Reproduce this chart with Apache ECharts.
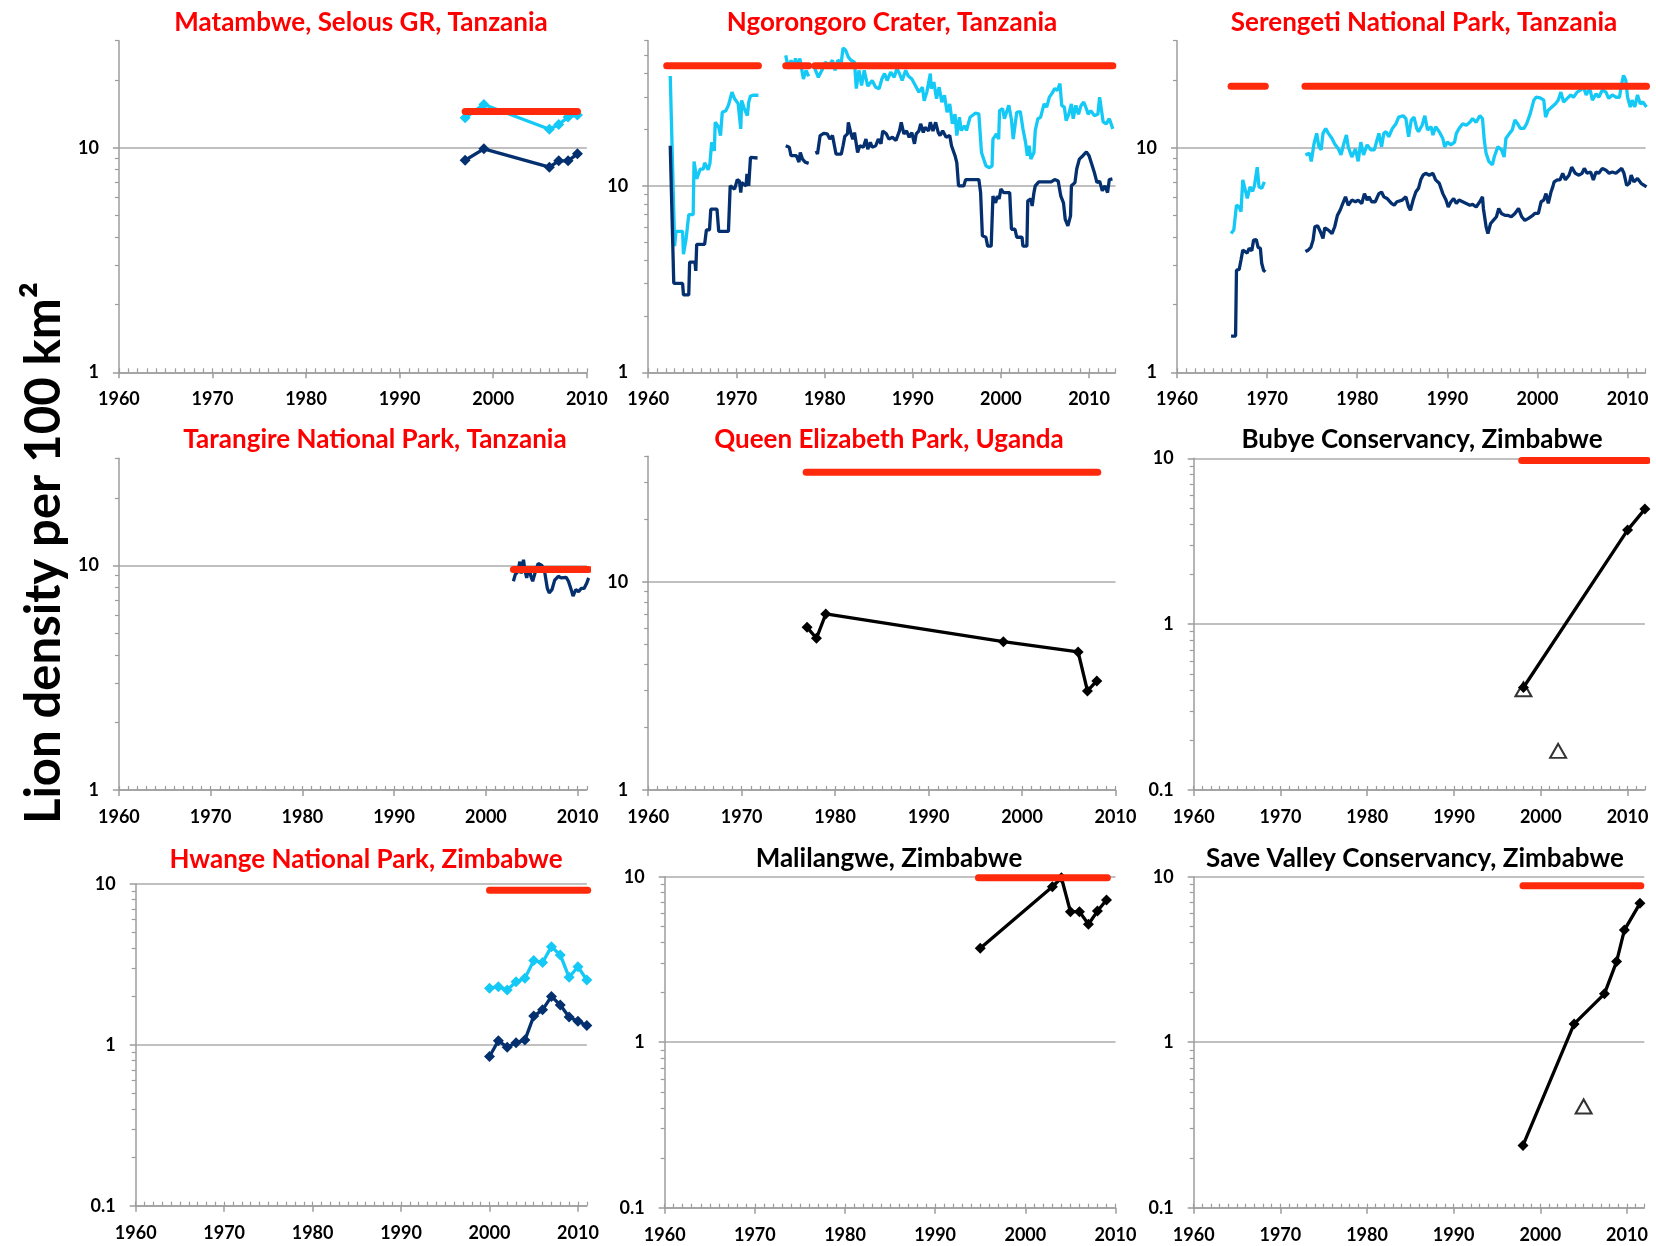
<!DOCTYPE html>
<html>
<head>
<meta charset="utf-8">
<script src="https://cdn.jsdelivr.net/npm/echarts@6/dist/echarts.min.js"></script>
<style>
  html, body { margin: 0; padding: 0; background: #fff; }
  #chart { width: 1656px; height: 1246px; }
</style>
</head>
<body>
<div id="chart"></div>
<script>
// ---- data (lion density per 100 km2) ----

// Matambwe, Selous GR
const matambweYears = [1997, 1999, 2006, 2007, 2008, 2009];
const matambweTotal = [13.6, 15.6, 12.1, 12.7, 13.7, 14.0];
const matambweAdult = [8.8, 9.9, 8.2, 8.75, 8.75, 9.4];
const matambweTarget = [[1997, 2009]];
const matambweLevel = 14.5;

// Ngorongoro Crater (three recording periods)
const ngoroTotalA = [[1962.5,38.8],[1963.0,4.75],[1963.15,5.7],[1963.9,5.7],[1964.0,4.3],[1964.3,5.2],[1964.5,5.3],[1964.6,7.0],[1965.1,7.0],[1965.2,13.5],[1965.5,10.9],[1965.9,12.3],[1966.25,12.3],[1966.4,13.3],[1966.8,12.2],[1967.0,13.2],[1967.2,17.1],[1967.5,15.4],[1967.6,21.9],[1968.0,20.6],[1968.2,18.6],[1968.4,24.8],[1968.8,25.3],[1969.1,27.0],[1969.5,31.8],[1969.8,29.3],[1970.2,27.6],[1970.5,20.2],[1970.6,28.7],[1970.9,25.9],[1971.25,23.8],[1971.4,28.1],[1971.6,30.3],[1971.9,30.6],[1972.5,30.6]];
const ngoroTotalB = [[1975.6,50.1],[1975.9,42.5],[1976.2,47.1],[1976.5,43.5],[1976.7,48.2],[1977.0,43.5],[1977.2,48.2],[1977.6,37.4],[1977.9,41.6],[1978.2,38.6]];
const ngoroTotalC = [[1978.9,42.5],[1979.3,38.2],[1979.7,41.6],[1980.1,46.0],[1980.5,44.3],[1980.9,47.1],[1981.2,41.6],[1981.5,47.1],[1981.9,46.0],[1982.1,54.9],[1982.4,53.3],[1982.7,49.0],[1983.0,47.1],[1983.4,46.0],[1983.6,33.2],[1983.9,41.6],[1984.2,34.5],[1984.5,41.6],[1984.9,34.2],[1985.4,36.7],[1985.8,33.8],[1986.2,33.2],[1986.5,37.4],[1986.8,40.0],[1987.1,36.7],[1987.5,40.7],[1987.9,38.2],[1988.2,42.5],[1988.5,40.0],[1988.8,36.7],[1989.2,41.6],[1989.5,38.8],[1989.9,37.4],[1990.3,34.5],[1990.7,31.8],[1991.1,33.8],[1991.3,28.6],[1991.6,31.8],[1992.0,40.0],[1992.1,33.2],[1992.4,36.0],[1992.7,29.3],[1993.0,33.8],[1993.3,28.1],[1993.6,30.6],[1993.9,24.8],[1994.2,27.5],[1994.5,21.5],[1994.8,24.2],[1995.0,18.6],[1995.3,23.3],[1995.5,19.8],[1995.9,21.0],[1996.1,19.8],[1996.5,23.3],[1997.1,24.5],[1997.5,24.3],[1997.8,15.1],[1998.3,12.8],[1998.7,12.5],[1999.0,12.8],[1999.1,17.8],[1999.5,19.0],[1999.75,17.8],[1999.85,25.3],[2000.2,25.9],[2000.4,22.9],[2000.6,22.9],[2000.9,27.0],[2001.2,22.6],[2001.4,17.8],[2001.6,17.5],[2001.8,24.8],[2002.2,25.0],[2002.5,20.2],[2002.8,17.1],[2003.0,14.5],[2003.2,16.4],[2003.4,13.9],[2003.75,15.1],[2003.9,19.8],[2004.2,22.9],[2004.5,23.3],[2004.9,27.5],[2005.2,26.4],[2005.5,29.9],[2005.8,31.3],[2006.1,33.2],[2006.4,32.5],[2006.7,35.3],[2006.9,27.0],[2007.2,26.4],[2007.4,22.4],[2007.7,24.2],[2008.0,27.5],[2008.2,22.9],[2008.5,27.0],[2008.8,24.2],[2009.1,27.0],[2009.4,28.1],[2009.7,25.9],[2009.9,24.2],[2010.2,25.3],[2010.6,23.8],[2011.0,24.2],[2011.2,29.9],[2011.4,29.3],[2011.6,22.0],[2011.95,21.5],[2012.3,22.9],[2012.7,20.2]];
const ngoroAdultA = [[1962.5,16.4],[1962.9,3.0],[1963.9,3.0],[1964.0,2.6],[1964.6,2.6],[1964.7,3.9],[1965.3,3.9],[1965.4,3.5],[1965.5,4.85],[1966.4,4.85],[1966.6,5.8],[1966.95,5.8],[1967.1,7.5],[1967.8,7.5],[1968.0,5.7],[1969.1,5.7],[1969.3,10.0],[1969.8,9.6],[1970.1,10.8],[1970.35,10.6],[1970.5,9.2],[1970.6,10.4],[1971.1,10.0],[1971.2,11.6],[1971.4,10.0],[1971.6,14.2],[1972.4,14.1]];
const ngoroAdultB = [[1975.6,16.4],[1976.0,16.1],[1976.2,14.5],[1976.8,14.5],[1977.1,13.4],[1977.25,15.1],[1977.5,13.9],[1977.8,13.4],[1978.2,13.2]];
const ngoroAdultC = [[1979.05,15.4],[1979.2,14.8],[1979.5,18.6],[1979.9,19.1],[1980.3,19.0],[1980.6,17.8],[1980.9,18.6],[1981.3,14.8],[1981.9,14.8],[1982.1,16.4],[1982.3,18.4],[1982.6,19.0],[1982.7,21.9],[1983.0,19.0],[1983.2,17.8],[1983.4,19.3],[1983.75,15.1],[1984.0,16.4],[1984.4,16.1],[1984.7,17.8],[1984.9,15.7],[1985.2,17.1],[1985.4,16.1],[1985.8,16.4],[1986.1,17.8],[1986.4,16.8],[1986.6,19.7],[1987.0,19.0],[1987.3,17.8],[1987.7,18.2],[1988.1,17.5],[1988.5,19.7],[1988.7,21.9],[1989.0,19.0],[1989.3,19.7],[1989.6,18.2],[1989.9,19.3],[1990.2,16.8],[1990.4,19.0],[1990.7,19.7],[1990.9,21.5],[1991.2,19.3],[1991.4,20.6],[1991.8,19.7],[1992.0,21.9],[1992.3,19.7],[1992.6,21.9],[1992.9,19.3],[1993.1,18.6],[1993.4,19.7],[1993.8,18.2],[1994.2,18.6],[1994.4,16.4],[1994.8,14.5],[1995.0,13.3],[1995.2,10.0],[1995.8,10.0],[1996.0,10.8],[1997.5,10.8],[1997.7,9.2],[1997.9,5.4],[1998.3,5.3],[1998.5,4.75],[1998.9,4.75],[1999.1,8.8],[1999.4,8.1],[1999.6,8.8],[1999.8,8.5],[2000.0,9.6],[2000.3,9.2],[2001.0,9.2],[2001.2,5.85],[2001.6,5.85],[2001.8,5.3],[2002.4,5.3],[2002.5,4.75],[2002.95,4.75],[2003.05,8.3],[2003.4,8.5],[2003.55,7.8],[2003.75,9.2],[2003.9,10.0],[2004.3,10.5],[2005.7,10.5],[2006.1,10.8],[2006.5,10.6],[2006.8,8.8],[2007.1,8.1],[2007.3,6.6],[2007.6,6.1],[2007.9,6.9],[2008.0,10.0],[2008.4,10.4],[2008.6,12.3],[2008.9,13.9],[2009.3,14.5],[2009.7,15.2],[2010.0,14.5],[2010.3,13.1],[2010.6,11.8],[2010.9,10.4],[2011.2,10.6],[2011.4,9.8],[2011.5,9.4],[2011.8,10.0],[2012.1,9.2],[2012.3,10.8],[2012.65,10.9]];
const ngoroTarget = [[1962.1, 1972.5], [1975.6, 1978.2], [1978.9, 2012.7]];
const ngoroLevel = 44;

// Serengeti National Park
const serenTotalA = [[1966.0,4.15],[1966.3,4.3],[1966.6,5.55],[1966.9,5.45],[1967.1,5.2],[1967.3,7.2],[1967.5,7.3],[1967.8,5.95],[1968.1,6.7],[1968.4,6.4],[1968.6,6.8],[1968.9,8.2],[1969.1,6.7],[1969.4,6.6],[1969.7,7.05]];
const serenTotalB = [[1974.25,9.3],[1974.7,9.45],[1974.9,8.7],[1975.2,10.4],[1975.5,11.6],[1975.75,10.1],[1976.0,9.8],[1976.2,11.6],[1976.5,12.2],[1976.8,11.6],[1977.2,11.0],[1977.5,10.4],[1977.9,9.9],[1978.2,9.3],[1978.5,10.4],[1978.8,11.4],[1979.0,10.1],[1979.4,9.1],[1979.8,9.9],[1980.1,8.7],[1980.4,10.6],[1980.7,9.3],[1981.1,10.3],[1981.5,9.8],[1981.9,9.8],[1982.4,11.6],[1982.7,10.1],[1982.95,11.6],[1983.2,11.8],[1983.5,11.2],[1983.9,12.2],[1984.3,12.8],[1984.6,13.7],[1985.1,13.9],[1985.4,13.5],[1985.7,11.2],[1986.0,13.3],[1986.3,13.7],[1986.6,12.2],[1986.8,11.8],[1987.2,12.6],[1987.5,13.9],[1987.8,12.0],[1988.2,12.4],[1988.4,11.4],[1988.7,12.4],[1989.1,11.8],[1989.5,11.0],[1989.7,10.1],[1990.0,10.6],[1990.4,10.3],[1990.8,10.6],[1991.0,11.6],[1991.3,12.2],[1991.7,12.8],[1992.1,12.6],[1992.5,13.0],[1992.8,13.5],[1993.2,13.0],[1993.6,13.9],[1993.9,13.5],[1994.1,10.8],[1994.3,9.45],[1994.6,8.7],[1995.0,8.4],[1995.2,9.1],[1995.6,10.1],[1996.0,9.8],[1996.3,9.1],[1996.5,11.0],[1996.9,11.6],[1997.2,12.0],[1997.5,13.3],[1997.8,12.8],[1998.1,12.2],[1998.5,12.2],[1998.8,12.8],[1999.2,14.2],[1999.6,16.3],[1999.85,16.8],[2000.3,16.7],[2000.7,16.3],[2000.9,13.7],[2001.2,14.7],[2001.6,15.2],[2002.0,15.7],[2002.3,16.3],[2002.6,17.7],[2002.9,16.0],[2003.3,16.6],[2003.7,17.2],[2004.0,16.8],[2004.4,17.7],[2004.8,18.1],[2005.1,18.7],[2005.4,17.2],[2005.8,18.4],[2006.1,16.3],[2006.5,17.4],[2006.8,16.8],[2007.2,18.1],[2007.6,17.7],[2007.9,16.6],[2008.3,17.2],[2008.7,16.8],[2009.1,16.8],[2009.35,19.3],[2009.55,21.0],[2009.8,20.0],[2010.0,16.8],[2010.3,15.2],[2010.5,16.3],[2010.8,15.2],[2011.1,17.2],[2011.4,15.7],[2011.7,16.0],[2012.1,15.2]];
const serenAdultA = [[1966.0,1.45],[1966.5,1.45],[1966.6,2.85],[1966.9,2.87],[1967.1,3.16],[1967.3,3.5],[1967.5,3.57],[1967.8,3.4],[1968.0,3.57],[1968.3,3.48],[1968.5,3.88],[1968.8,3.9],[1969.0,3.6],[1969.25,3.57],[1969.4,3.06],[1969.6,2.85],[1969.8,2.8]];
const serenAdultB = [[1974.25,3.45],[1974.55,3.5],[1974.85,3.6],[1975.1,3.88],[1975.3,4.45],[1975.6,4.5],[1976.0,4.15],[1976.2,3.95],[1976.4,4.4],[1976.8,4.3],[1977.2,4.15],[1977.5,4.45],[1977.8,5.0],[1978.1,5.27],[1978.4,5.65],[1978.7,6.05],[1979.0,5.55],[1979.4,5.85],[1979.8,5.75],[1980.1,5.85],[1980.5,5.65],[1980.8,6.25],[1981.1,5.85],[1981.3,6.05],[1981.6,5.75],[1982.0,5.75],[1982.4,6.25],[1982.7,6.35],[1982.95,6.05],[1983.3,5.95],[1983.8,5.65],[1984.1,5.55],[1984.4,5.75],[1985.0,5.85],[1985.4,6.05],[1985.7,5.45],[1985.9,5.27],[1986.2,5.85],[1986.5,6.35],[1986.8,6.6],[1987.05,7.2],[1987.3,7.55],[1987.6,7.7],[1988.0,7.55],[1988.4,7.7],[1988.7,7.2],[1989.1,6.95],[1989.5,6.25],[1989.85,5.85],[1990.1,5.45],[1990.4,5.75],[1990.7,5.95],[1991.0,5.65],[1991.3,5.85],[1991.7,5.75],[1992.1,5.65],[1992.5,5.55],[1992.8,5.6],[1993.2,5.45],[1993.6,5.75],[1993.9,6.05],[1994.0,5.37],[1994.3,4.45],[1994.5,4.15],[1994.8,4.6],[1995.1,4.75],[1995.45,4.93],[1995.7,5.37],[1996.0,5.1],[1996.4,5.0],[1996.75,5.0],[1997.1,4.93],[1997.5,5.1],[1997.9,5.37],[1998.25,4.93],[1998.6,4.75],[1999.0,4.85],[1999.4,4.97],[1999.7,5.1],[2000.1,5.1],[2000.4,5.75],[2000.7,5.85],[2000.95,6.25],[2001.2,5.65],[2001.5,6.35],[2001.7,6.7],[2001.85,7.05],[2002.2,7.2],[2002.5,7.2],[2002.8,7.7],[2003.1,7.2],[2003.5,7.55],[2003.8,8.2],[2004.2,7.7],[2004.6,7.55],[2004.95,7.7],[2005.2,8.1],[2005.5,7.7],[2005.9,7.8],[2006.2,7.2],[2006.5,7.8],[2006.8,7.7],[2007.2,8.1],[2007.6,7.95],[2007.95,7.7],[2008.3,7.8],[2008.7,7.7],[2009.1,7.95],[2009.35,8.1],[2009.6,7.7],[2009.9,6.8],[2010.2,6.95],[2010.4,7.55],[2010.7,7.05],[2011.1,7.3],[2011.5,6.95],[2012.1,6.7]];
const serenTarget = [[1966.0, 1969.8], [1974.2, 2012.1]];
const serenLevel = 18.8;

// Tarangire National Park
const tarangireAdult = [[2003.0,8.5],[2003.2,9.1],[2003.5,9.4],[2003.7,10.4],[2003.85,9.2],[2004.1,10.6],[2004.25,9.5],[2004.45,8.8],[2004.7,9.9],[2004.9,8.95],[2005.1,8.5],[2005.4,9.4],[2005.7,10.2],[2006.1,10.0],[2006.4,9.4],[2006.7,7.9],[2006.9,7.55],[2007.2,7.8],[2007.5,8.6],[2007.9,8.95],[2008.2,8.8],[2008.75,8.85],[2009.0,8.5],[2009.3,7.8],[2009.5,7.3],[2009.8,7.8],[2010.1,7.65],[2010.4,7.9],[2010.7,7.9],[2011.0,8.35],[2011.2,8.8]];
const tarangireTarget = [[2003.0, 2011.2]];
const tarangireLevel = 9.6;

// Queen Elizabeth Park
const queenYears = [1977, 1978, 1979, 1998, 2006, 2007, 2008];
const queenDensity = [6.04, 5.35, 7.0, 5.15, 4.6, 2.99, 3.34];
const queenTarget = [[1976.9, 2008.1]];
const queenLevel = 33.5;

// Bubye Conservancy
const bubyeYears = [1998, 2010, 2012];
const bubyeDensity = [0.415, 3.69, 4.94];
const bubyeSurveyYears = [1998, 2002];
const bubyeSurvey = [0.405, 0.172];
const bubyeTarget = [[1997.8, 2012.3]];
const bubyeLevel = 9.7;

// Hwange National Park
const hwangeYears = [2000, 2001, 2002, 2003, 2004, 2005, 2006, 2007, 2008, 2009, 2010, 2011];
const hwangeTotal = [2.25, 2.30, 2.19, 2.47, 2.59, 3.34, 3.25, 4.08, 3.62, 2.63, 3.06, 2.53];
const hwangeAdult = [0.846, 1.06, 0.967, 1.03, 1.07, 1.51, 1.65, 2.0, 1.77, 1.49, 1.40, 1.32];
const hwangeTarget = [[2000, 2011.1]];
const hwangeLevel = 9.14;

// Malilangwe
const maliYears = [1995, 2003, 2004, 2005, 2006, 2007, 2008, 2009];
const maliDensity = [3.69, 8.7, 9.86, 6.15, 6.15, 5.16, 6.2, 7.23];
const maliTarget = [[1994.8, 2009.1]];
const maliLevel = 9.85;

// Save Valley Conservancy
const saveYears = [1998, 2003.9, 2007.4, 2008.8, 2009.7, 2011.5];
const saveDensity = [0.238, 1.29, 1.96, 3.07, 4.76, 6.9];
const saveSurveyYears = [2005];
const saveSurvey = [0.409];
const saveTarget = [[1998, 2011.6]];
const saveLevel = 8.83;

// tick labels
const decadeLabels = [1960, 1970, 1980, 1990, 2000, 2010];
const yMajorHigh = [1, 10];
const yMajorLow = [0.1, 1, 10];
const yMinor = [0.2, 0.3, 0.4, 0.5, 0.6, 0.7, 0.8, 0.9, 2, 3, 4, 5, 6, 7, 8, 9, 20, 30, 40, 50, 60];

// ---- styling ----
const CYAN = '#14c9f5';
const NAVY = '#05306f';
const RED = '#ff2a0c';
const BLACK = '#000000';
const AXIS_GREY = '#9c9c9c';
const GRID_GREY = '#ababab';
const FONT = 'Lato';

const pairs = (xs, ys) => xs.map((x, k) => [x, ys[k]]);

// panel boxes [left, top, width, height] in px
const panels = [
  { title: 'Matambwe, Selous GR, Tanzania', color: '#ff0000', cx: 361, ty: 10, box: [118.9, 40.7, 467.9, 331.6], xMax: 2010, y: [1, 30], major: yMajorHigh },
  { title: 'Ngorongoro Crater, Tanzania', color: '#ff0000', cx: 892, ty: 10, box: [648.2, 40.7, 467.3, 331.6], xMax: 2013, y: [1, 60], major: yMajorHigh },
  { title: 'Serengeti National Park, Tanzania', color: '#ff0000', cx: 1424, ty: 10, box: [1177, 40.7, 468.6, 331.6], xMax: 2012, y: [1, 30], major: yMajorHigh },
  { title: 'Tarangire National Park, Tanzania', color: '#ff0000', cx: 375, ty: 427, box: [118.9, 458.3, 467.9, 331.7], xMax: 2011, y: [1, 30], major: yMajorHigh },
  { title: 'Queen Elizabeth Park, Uganda', color: '#ff0000', cx: 889, ty: 427, box: [648.2, 456.3, 467.3, 333.7], xMax: 2010, y: [1, 40], major: yMajorHigh },
  { title: 'Bubye Conservancy, Zimbabwe', color: '#000000', cx: 1422, ty: 427, box: [1193.7, 458.3, 451.2, 331.7], xMax: 2012, y: [0.1, 10], major: yMajorLow },
  { title: 'Hwange National Park, Zimbabwe', color: '#ff0000', cx: 366, ty: 847, box: [135.7, 884, 451.1, 321.7], xMax: 2011, y: [0.1, 10], major: yMajorLow },
  { title: 'Malilangwe, Zimbabwe', color: '#000000', cx: 889, ty: 846, box: [664.7, 876.7, 450.8, 331], xMax: 2010, y: [0.1, 10], major: yMajorLow },
  { title: 'Save Valley Conservancy, Zimbabwe', color: '#000000', cx: 1415, ty: 846, box: [1193.7, 876.7, 450.6, 331], xMax: 2012, y: [0.1, 10], major: yMajorLow }
];

function line(i, data, color, marker) {
  return {
    type: 'line', xAxisIndex: 2 * i, yAxisIndex: 2 * i, data,
    symbol: marker ? 'diamond' : 'none', symbolSize: 11, showSymbol: !!marker,
    itemStyle: { color }, lineStyle: { color, width: 3.3 }, z: 3, silent: true
  };
}

function targets(i, segs, level) {
  return segs.map(s => ({
    type: 'line', xAxisIndex: 2 * i, yAxisIndex: 2 * i,
    data: [[s[0], level], [s[1], level]], symbol: 'none',
    lineStyle: { color: RED, width: 7, cap: 'round' }, z: 5, silent: true
  }));
}

function survey(i, data) {
  return {
    type: 'scatter', xAxisIndex: 2 * i, yAxisIndex: 2 * i, data,
    symbol: 'triangle', symbolSize: [16, 14],
    itemStyle: { color: '#ffffff', borderColor: '#000', borderWidth: 2 }, z: 2, silent: true
  };
}

const series = [
  line(0, pairs(matambweYears, matambweTotal), CYAN, true),
  line(0, pairs(matambweYears, matambweAdult), NAVY, true),
  ...targets(0, matambweTarget, matambweLevel),

  line(1, ngoroTotalA, CYAN), line(1, ngoroTotalB, CYAN), line(1, ngoroTotalC, CYAN),
  line(1, ngoroAdultA, NAVY), line(1, ngoroAdultB, NAVY), line(1, ngoroAdultC, NAVY),
  ...targets(1, ngoroTarget, ngoroLevel),

  line(2, serenTotalA, CYAN), line(2, serenTotalB, CYAN),
  line(2, serenAdultA, NAVY), line(2, serenAdultB, NAVY),
  ...targets(2, serenTarget, serenLevel),

  line(3, tarangireAdult, NAVY),
  ...targets(3, tarangireTarget, tarangireLevel),

  line(4, pairs(queenYears, queenDensity), BLACK, true),
  ...targets(4, queenTarget, queenLevel),

  survey(5, pairs(bubyeSurveyYears, bubyeSurvey)),
  line(5, pairs(bubyeYears, bubyeDensity), BLACK, true),
  ...targets(5, bubyeTarget, bubyeLevel),

  line(6, pairs(hwangeYears, hwangeTotal), CYAN, true),
  line(6, pairs(hwangeYears, hwangeAdult), NAVY, true),
  ...targets(6, hwangeTarget, hwangeLevel),

  line(7, pairs(maliYears, maliDensity), BLACK, true),
  ...targets(7, maliTarget, maliLevel),

  survey(8, pairs(saveSurveyYears, saveSurvey)),
  line(8, pairs(saveYears, saveDensity), BLACK, true),
  ...targets(8, saveTarget, saveLevel)
];

const labelStyle = { fontFamily: FONT, fontWeight: 'bold', fontSize: 18, color: '#000' };
const xAxes = [], yAxes = [];
const allYears = [];
for (let y = 1960; y <= 2013; y++) allYears.push(y);

panels.forEach((p, i) => {
  xAxes.push({
    type: 'value', gridIndex: i, min: 1960, max: p.xMax, position: 'bottom',
    axisLine: { show: true, onZero: false, lineStyle: { color: AXIS_GREY, width: 1.5 } },
    axisTick: { show: true, inside: false, length: 6, customValues: decadeLabels, lineStyle: { color: AXIS_GREY, width: 1.5 } },
    axisLabel: Object.assign({ customValues: decadeLabels, margin: 18, formatter: v => String(v) }, labelStyle),
    splitLine: { show: false }
  });
  xAxes.push({
    type: 'value', gridIndex: i, min: 1960, max: p.xMax, position: 'bottom',
    axisLine: { show: false, onZero: false },
    axisTick: { show: true, inside: true, length: 4, customValues: allYears, lineStyle: { color: AXIS_GREY, width: 1.2 } },
    axisLabel: { show: false }, splitLine: { show: false }
  });
  yAxes.push({
    type: 'log', logBase: 10, gridIndex: i, min: p.y[0], max: p.y[1], position: 'left',
    axisLine: { show: true, onZero: false, lineStyle: { color: AXIS_GREY, width: 1.5 } },
    axisTick: { show: true, inside: false, length: 6, customValues: p.major, lineStyle: { color: AXIS_GREY, width: 1.5 } },
    axisLabel: Object.assign({ customValues: p.major, margin: 20, formatter: v => String(v) }, labelStyle),
    splitLine: { show: true, lineStyle: { color: GRID_GREY, width: 1.5 } }
  });
  yAxes.push({
    type: 'log', logBase: 10, gridIndex: i, min: p.y[0], max: p.y[1], position: 'left',
    axisLine: { show: false, onZero: false },
    axisTick: { show: true, inside: false, length: 4, customValues: yMinor, lineStyle: { color: AXIS_GREY, width: 1.2 } },
    axisLabel: { show: false }, splitLine: { show: false }
  });
});

const chart = echarts.init(document.getElementById('chart'));
chart.setOption({
  animation: false,
  backgroundColor: '#ffffff',
  title: panels.map(p => ({
    text: p.title, left: p.cx, top: p.ty, textAlign: 'center', padding: 0,
    textStyle: { fontFamily: FONT, fontWeight: 'bold', fontSize: 26, color: p.color }
  })),
  grid: panels.map(p => ({ left: p.box[0], top: p.box[1], width: p.box[2], height: p.box[3], containLabel: false })),
  xAxis: xAxes,
  yAxis: yAxes,
  graphic: [{
    type: 'text', x: 44, y: 553, rotation: Math.PI / 2,
    style: { text: 'Lion density per 100 km²', font: 'bold 49px Lato', fill: '#000', align: 'center', verticalAlign: 'middle' }
  }],
  series
});
</script>
</body>
</html>
